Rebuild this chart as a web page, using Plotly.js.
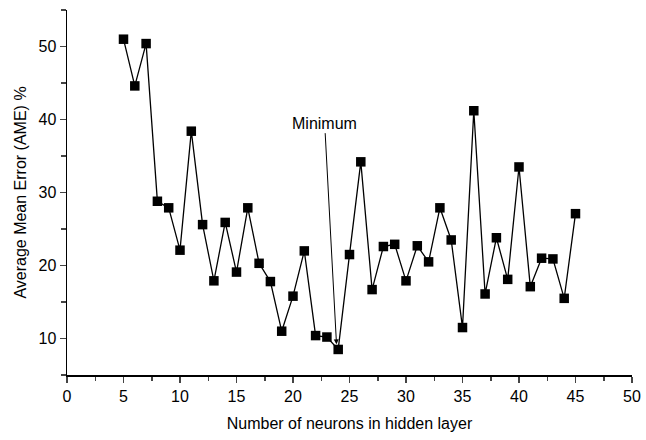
<!DOCTYPE html>
<html>
<head>
<meta charset="utf-8">
<script src="https://cdn.plot.ly/plotly-3.0.1.min.js"></script>
<style>html,body{margin:0;padding:0;background:#fff;}#chart{width:646px;height:440px;}</style>
</head>
<body>
<div id="chart"></div>
<script>
const neurons = [5,6,7,8,9,10,11,12,13,14,15,16,17,18,19,20,21,22,23,24,25,26,27,28,29,30,31,32,33,34,35,36,37,38,39,40,41,42,43,44,45];
const ame = [51.0,44.6,50.4,28.8,27.9,22.1,38.4,25.6,17.9,25.9,19.1,27.9,20.3,17.8,11.0,15.8,22.0,10.4,10.2,8.5,21.5,34.2,16.7,22.6,22.9,17.9,22.7,20.5,27.9,23.5,11.5,41.2,16.1,23.8,18.1,33.5,17.1,21.0,20.9,15.5,27.1];
const annotationText = "Minimum";
const annotationTip = [23.85, 9.2];
const annotationAt = [22.8, 39.5];

const font = "Liberation Sans, Arial, sans-serif";
const trace = {
  x: neurons, y: ame, type: 'scatter', mode: 'lines+markers',
  line: {color: '#000', width: 1.3},
  marker: {symbol: 'square', size: 9.5, color: '#000'},
  cliponaxis: false
};
const layout = {
  width: 646, height: 440,
  margin: {l: 67, r: 14, t: 10, b: 65},
  paper_bgcolor: '#fff', plot_bgcolor: '#fff',
  showlegend: false,
  font: {family: font, size: 16, color: '#000'},
  xaxis: {
    range: [0, 50], tick0: 0, dtick: 5, ticks: 'outside', ticklen: 6, tickwidth: 1.5,
    showline: true, linewidth: 1.5, linecolor: '#000', showgrid: false, zeroline: false,
    tickfont: {family: font, size: 16},
    minor: {dtick: 2.5, ticks: 'outside', ticklen: 4, tickwidth: 1.5, showgrid: false},
    title: {text: 'Number of neurons in hidden layer', font: {family: font, size: 16}, standoff: 14}
  },
  yaxis: {
    range: [5, 55], tick0: 0, dtick: 10, ticks: 'outside', ticklen: 6, tickwidth: 1.5,
    showline: true, linewidth: 1.5, linecolor: '#000', showgrid: false, zeroline: false,
    tickfont: {family: font, size: 16},
    minor: {dtick: 5, ticks: 'outside', ticklen: 5, tickwidth: 1.5, showgrid: false},
    title: {text: 'Average Mean Error (AME) %', font: {family: font, size: 16}, standoff: 8}
  },
  annotations: [{
    x: annotationTip[0], y: annotationTip[1], xref: 'x', yref: 'y',
    ax: annotationAt[0], ay: annotationAt[1], axref: 'x', ayref: 'y',
    text: annotationText, showarrow: true, arrowhead: 2, arrowsize: 1, arrowwidth: 1,
    arrowcolor: '#000', font: {family: font, size: 16, color: '#000'}
  }]
};
Plotly.newPlot('chart', [trace], layout, {displayModeBar: false, staticPlot: true});
</script>
</body>
</html>
